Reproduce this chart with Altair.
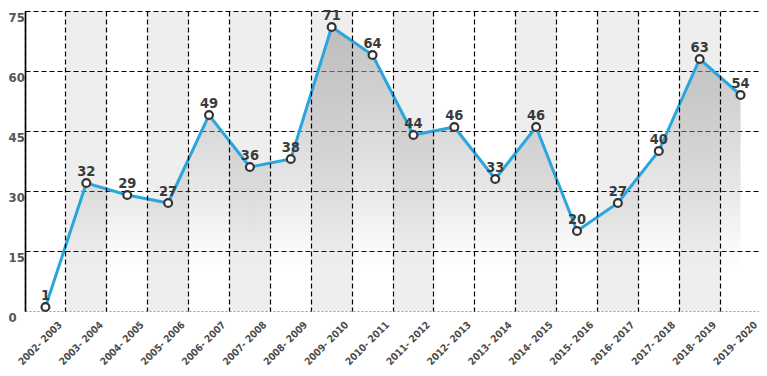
import altair as alt
import pandas as pd

seasons = ["2002- 2003", "2003- 2004", "2004- 2005", "2005- 2006", "2006- 2007",
           "2007- 2008", "2008- 2009", "2009- 2010", "2010- 2011", "2011- 2012",
           "2012- 2013", "2013- 2014", "2014- 2015", "2015- 2016", "2016- 2017",
           "2017- 2018", "2018- 2019", "2019- 2020"]
values = [1, 32, 29, 27, 49, 36, 38, 71, 64, 44, 46, 33, 46, 20, 27, 40, 63, 54]
shaded = [0, 1, 0, 1, 0, 1, 0, 1, 0, 1, 0, 0, 1, 0, 1, 0, 1, 0]
y_ticks = [0, 15, 30, 45, 60, 75]

df = pd.DataFrame({"season": seasons, "value": values, "shade": shaded})

FONT = "DejaVu Sans Condensed, sans-serif"

xscale = alt.Scale(type="band", paddingInner=0, paddingOuter=0)
xaxis = alt.Axis(title=None, bandPosition=0, grid=True, gridColor="black",
                 gridDash=[5, 3], gridWidth=1.2, ticks=False, domain=False,
                 labelAngle=-45, labelAlign="center", labelBaseline="middle",
                 labelPadding=32, labelOffset=-5, labelFont=FONT,
                 labelFontSize=10, labelFontWeight="bold", labelColor="#4a4a4a")
yscale = alt.Scale(domain=[0, 75], nice=False, zero=True)
yaxis = alt.Axis(title=None, values=y_ticks, grid=True,
                 gridColor=alt.condition("datum.value == 0", alt.value("#999999"), alt.value("black")),
                 gridDash=alt.condition("datum.value == 0", alt.value([2, 2]), alt.value([5, 3])),
                 gridWidth=1.2, ticks=False, domain=True, domainColor="black",
                 domainWidth=1.6, labelAlign="left", labelBaseline="middle",
                 labelPadding=17, labelOffset=6, labelFont=FONT, labelFontSize=13,
                 labelFontWeight="bold", labelColor="#555")

X = alt.X("season:N", sort=seasons, scale=xscale, axis=xaxis)
Y = alt.Y("value:Q", scale=yscale, axis=yaxis)

base = alt.Chart(df)

shade = base.transform_filter("datum.shade == 1").mark_rect(
    color="black", opacity=0.065
).encode(
    x=X,
    y=alt.Y(datum=0, type="quantitative", scale=yscale, axis=yaxis),
    y2=alt.Y2(datum=75),
)

grad = alt.Gradient(
    gradient="linear", x1=0, y1=0, x2=0, y2=1,
    stops=[
        alt.GradientStop(color="rgba(165,165,165,0.66)", offset=0),
        alt.GradientStop(color="rgba(165,165,165,0.50)", offset=0.25),
        alt.GradientStop(color="rgba(165,165,165,0.28)", offset=0.55),
        alt.GradientStop(color="rgba(165,165,165,0.05)", offset=0.78),
        alt.GradientStop(color="rgba(165,165,165,0)", offset=0.86),
        alt.GradientStop(color="rgba(165,165,165,0)", offset=1),
    ],
)
area = base.mark_area(color=grad).encode(x=X, y=Y)

line = base.mark_line(color="#29a6de", strokeWidth=3).encode(x=X, y=Y)

points = base.mark_point(shape="circle", filled=True, fill="white", stroke="#333333",
                         strokeWidth=2.2, size=62, opacity=1).encode(x=X, y=Y)

labels = base.mark_text(font=FONT, fontSize=14.5, fontWeight="bold", color="#3a3a3a",
                        baseline="alphabetic", dy=-7).encode(
    x=X, y=Y, text=alt.Text("value:Q"))

chart = alt.layer(shade, area, line, points, labels).properties(
    width=736, height=300,
    autosize=alt.AutoSizeParams(type="none"),
    padding={"left": 17, "top": 3, "right": -2, "bottom": 57},
    background="white",
).configure_view(stroke=None)

chart.save("out.html", embed_options={"renderer": "svg", "actions": False})
